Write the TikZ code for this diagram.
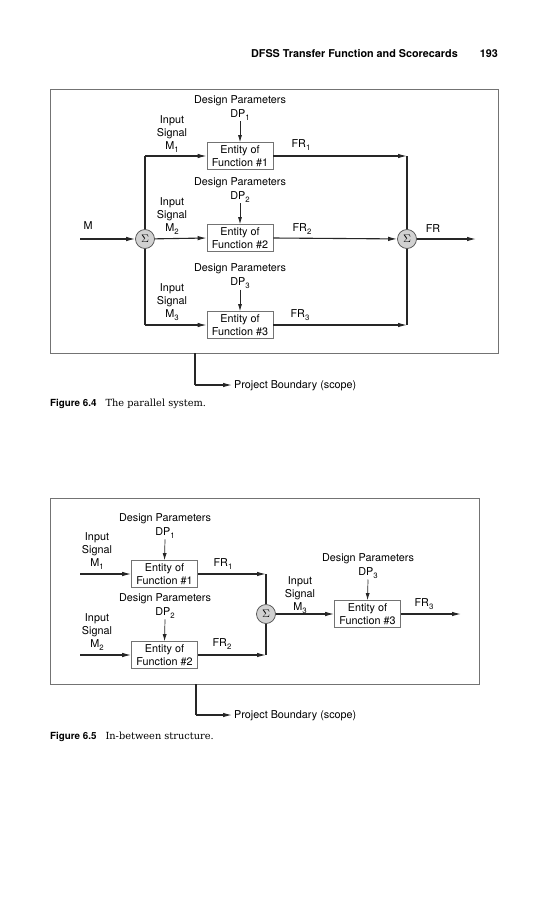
\documentclass[tikz,border=0pt]{standalone}
\usepackage{fontspec}
\setmainfont{TeX Gyre Heros}
\newfontfamily\capserif{DejaVu Serif}
\usetikzlibrary{arrows.meta}
\newcommand\sbs[1]{\raisebox{-2.6pt}{\fontsize{7.8}{8}\selectfont #1}}
\begin{document}
\begin{tikzpicture}[x=1pt,y=-1pt,
  ln/.style={draw=black!85,line width=1.1pt},
  arr/.style={ln,-{Latex[length=9pt,width=4.5pt]}},
  darr/.style={draw=black!85,line width=0.7pt,-{Latex[length=7pt,width=4pt]}},
  fbox/.style={draw=black!55,line width=0.7pt,minimum width=66pt,minimum height=27pt,inner sep=0pt,align=center,font=\fontsize{10.8}{13}\selectfont},
  sumc/.style={circle,draw=black!70,fill=black!18,line width=0.7pt,minimum size=19pt,inner sep=0pt,font=\fontsize{11}{11}\selectfont},
  lbl/.style={align=center,inner sep=0pt,font=\fontsize{10.8}{13}\selectfont},
  frame/.style={draw=black!55,line width=0.8pt},
  capnode/.style={anchor=west,inner sep=0pt},
]
\useasboundingbox[fill=white] (0,0) rectangle (550,900);

% header
\node[anchor=east,inner sep=0pt,font=\fontsize{10.8}{13}\selectfont\bfseries] (hdr) at (458,54) {DFSS Transfer Function and Scorecards};
\node[anchor=east,inner sep=0pt,font=\fontsize{10.8}{13}\selectfont\bfseries] (pg) at (498,54) {193};

% ===== Figure 6.4 =====
\draw[frame] (50,89) rectangle (498,353);
\coordinate (fA) at (195,353);

\node[sumc] (s1) at (145,239) {$\Sigma$};
\node[sumc] (s2) at (407,239) {$\Sigma$};
\node[fbox] (f1) at (240,156) {Entity of\\Function \#1};
\node[fbox] (f2) at (240,238) {Entity of\\Function \#2};
\node[fbox] (f3) at (240,325) {Entity of\\Function \#3};

\node[lbl] (dp1t) at (240,101) {Design Parameters};
\node[lbl] (dp1) at (240,115) {DP\sbs{1}};
\node[lbl] (dp2t) at (240,183) {Design Parameters};
\node[lbl] (dp2) at (240,197) {DP\sbs{2}};
\node[lbl] (dp3t) at (240,269) {Design Parameters};
\node[lbl] (dp3) at (240,283) {DP\sbs{3}};

\node[lbl] (in1) at (172,134) {Input\\Signal\\M\sbs{1}};
\node[lbl] (in2) at (172,216) {Input\\Signal\\M\sbs{2}};
\node[lbl] (in3) at (172,302) {Input\\Signal\\M\sbs{3}};

\node[lbl] (Ml) at (88,226) {M};
\node[lbl] (fr1) at (301,145) {FR\sbs{1}};
\node[lbl] (fr2) at (302,229) {FR\sbs{2}};
\node[lbl] (fr3) at (300,315) {FR\sbs{3}};
\node[lbl] (frl) at (433,229) {FR};

\coordinate (Min) at (80,239);
\coordinate (t1) at (145,156);
\coordinate (b1) at (145,325);
\coordinate (r1) at (407,156);
\coordinate (r3) at (407,325);
\coordinate (FRend) at (476,239);

\draw[arr] (Min) -- (s1);
\draw[ln] (t1) -- (s1.north);
\draw[ln] (s1.south) -- (b1);
\draw[arr] (t1) -- (f1.west);
\draw[arr] (s1) -- (f2.west);
\draw[arr] (b1) -- (f3.west);
\draw[darr] (dp1.south) ++(0,1) -- (f1.north);
\draw[darr] (dp2.south) ++(0,1) -- (f2.north);
\draw[darr] (dp3.south) ++(0,1) -- (f3.north);
\draw[arr] (f1.east) -- (r1);
\draw[arr] (f2.east) -- (s2);
\draw[arr] (f3.east) -- (r3);
\draw[ln] (r1) -- (s2.north);
\draw[ln] (s2.south) -- (r3);
\draw[arr] (s2) -- (FRend);

\node[lbl,anchor=west] (pb1) at (234,386) {Project Boundary (scope)};
\coordinate (pbc1) at (195,385);
\draw[ln] (fA) -- (pbc1);
\draw[arr] (pbc1) -- ([xshift=-2pt]pb1.west |- pbc1);

\node[capnode] (cap1) at (50,404) {{\fontsize{9.8}{11}\selectfont\bfseries Figure 6.4}\hspace{9pt}{\capserif\fontsize{9.8}{12}\selectfont The parallel system.}};

% ===== Figure 6.5 =====
\draw[frame] (50,498) rectangle (479,684);
\coordinate (fB) at (196,684);

\node[fbox] (g1) at (164.5,574) {Entity of\\Function \#1};
\node[fbox] (g2) at (164.5,655) {Entity of\\Function \#2};
\node[fbox] (g3) at (367.5,614) {Entity of\\Function \#3};
\node[sumc] (s3) at (266,614) {$\Sigma$};

\node[lbl] (ep1t) at (165,519) {Design Parameters};
\node[lbl] (ep1) at (165,533) {DP\sbs{1}};
\node[lbl] (ep2t) at (165,599) {Design Parameters};
\node[lbl] (ep2) at (165,613) {DP\sbs{2}};
\node[lbl] (ep3t) at (368,559) {Design Parameters};
\node[lbl] (ep3) at (368,573) {DP\sbs{3}};

\node[lbl] (jn1) at (97,551) {Input\\Signal\\M\sbs{1}};
\node[lbl] (jn2) at (97,632) {Input\\Signal\\M\sbs{2}};
\node[lbl] (jn3) at (300,595) {Input\\Signal\\M\sbs{3}};

\node[lbl] (gr1) at (223,564) {FR\sbs{1}};
\node[lbl] (gr2) at (222,644) {FR\sbs{2}};
\node[lbl] (gr3) at (424,604) {FR\sbs{3}};

\coordinate (m1in) at (80,574);
\coordinate (m2in) at (80,655);
\coordinate (j1) at (266,574);
\coordinate (j2) at (266,655);
\coordinate (FR3end) at (461,614);

\draw[arr] (m1in) -- (g1.west);
\draw[arr] (m2in) -- (g2.west);
\draw[darr] (ep1.south) ++(0,1) -- (g1.north);
\draw[darr] (ep2.south) ++(0,1) -- (g2.north);
\draw[darr] (ep3.south) ++(0,1) -- (g3.north);
\draw[arr] (g1.east) -- (j1);
\draw[arr] (g2.east) -- (j2);
\draw[ln] (j1) -- (s3.north);
\draw[ln] (s3.south) -- (j2);
\draw[arr] (s3) -- (g3.west);
\draw[arr] (g3.east) -- (FR3end);

\node[lbl,anchor=west] (pb2) at (234,716) {Project Boundary (scope)};
\coordinate (pbc2) at (196,715);
\draw[ln] (fB) -- (pbc2);
\draw[arr] (pbc2) -- ([xshift=-2pt]pb2.west |- pbc2);

\node[capnode] (cap2) at (50,737) {{\fontsize{9.8}{11}\selectfont\bfseries Figure 6.5}\hspace{9pt}{\capserif\fontsize{9.8}{12}\selectfont In-between structure.}};
\end{tikzpicture}
\end{document}
